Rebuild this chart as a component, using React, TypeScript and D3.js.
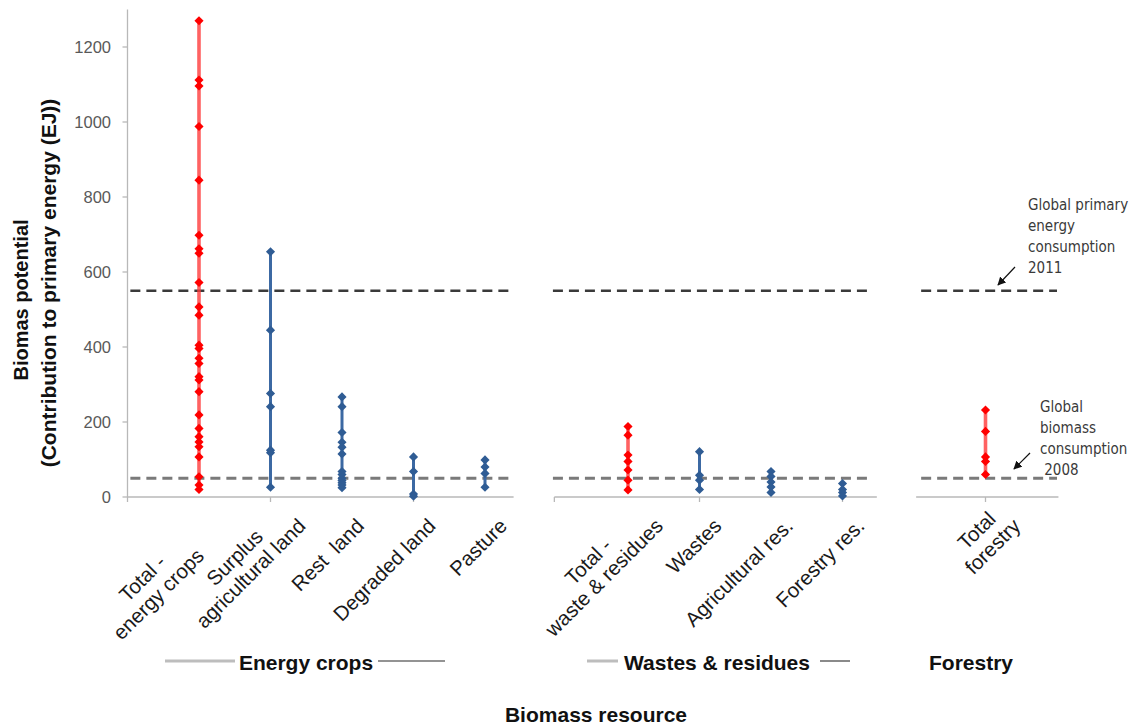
import React, { useEffect, useRef } from 'react';
import * as d3 from 'd3';

// ---------- DATA ----------
const categories = [
  'Total - energy crops',
  'Surplus agricultural land',
  'Rest land',
  'Degraded land',
  'Pasture',
  'Total - waste & residues',
  'Wastes',
  'Agricultural res.',
  'Forestry res.',
  'Total forestry',
];
const categoryLabelLines = [
  ['Total -', 'energy crops'],
  ['Surplus', 'agricultural land'],
  ['Rest  land'],
  ['Degraded land'],
  ['Pasture'],
  ['Total -', 'waste & residues'],
  ['Wastes'],
  ['Agricultural res.'],
  ['Forestry res.'],
  ['Total', 'forestry'],
];
// slot index on the category axis (empty slots separate the groups)
const categorySlots = [0, 1, 2, 3, 4, 6, 7, 8, 9, 11];
const isTotal = [true, false, false, false, false, true, false, false, false, true];

const totalEnergyCrops = [1270, 1112, 1096, 988, 845, 698, 662, 650, 572, 507, 485, 405, 396, 370, 356, 321, 312, 281, 219, 183, 161, 147, 134, 107, 54, 32, 20];
const surplusAgriculturalLand = [654, 445, 276, 241, 125, 118, 26];
const restLand = [267, 241, 172, 146, 133, 115, 68, 60, 50, 44, 38, 32, 25];
const degradedLand = [107, 68, 8, 2];
const pasture = [99, 80, 63, 26];
const totalWasteResidues = [188, 165, 112, 95, 72, 45, 19];
const wastes = [121, 58, 45, 20];
const agriculturalRes = [68, 55, 40, 27, 12];
const forestryRes = [36, 20, 12, 3];
const totalForestry = [232, 175, 107, 95, 60];

const seriesValues = [
  totalEnergyCrops,
  surplusAgriculturalLand,
  restLand,
  degradedLand,
  pasture,
  totalWasteResidues,
  wastes,
  agriculturalRes,
  forestryRes,
  totalForestry,
];

const yTicks = [0, 200, 400, 600, 800, 1000, 1200];
const primaryEnergy2011 = 550;
const biomass2008 = 50;

const groupNames = ['Energy crops', 'Wastes & residues', 'Forestry'];

// ---------- LAYOUT ----------
const W = 1135;
const H = 728;
const FONT = "'Liberation Sans', Arial, sans-serif";
const NARROW = "'Liberation Sans Narrow', 'DejaVu Sans Condensed', 'Liberation Sans', sans-serif";
const RED = '#ff0000';
const RED_LINE = '#ff3b3b';
const BLUE = '#2f5c94';
const BLUE_LINE = '#3c69a3';

export default function App() {
  const ref = useRef<SVGSVGElement>(null);

  useEffect(() => {
    const svg = d3.select(ref.current);
    svg.selectAll('*').remove();

    const y = d3.scaleLinear().domain([0, 1300]).range([497, 9.5]);
    const x = d3.scaleLinear().domain([-1, 12]).range([127.5, 1057]);

    const defs = svg.append('defs');
    defs
      .append('marker')
      .attr('id', 'arrowHead')
      .attr('viewBox', '0 0 10 10')
      .attr('refX', 9)
      .attr('refY', 5)
      .attr('markerWidth', 7)
      .attr('markerHeight', 7)
      .attr('orient', 'auto')
      .append('path')
      .attr('d', 'M0,0 L10,5 L0,10 Z')
      .attr('fill', '#111');

    // group axis segments (slot units)
    const axisSegs = [
      [-1, 4.4],
      [4.97, 9.48],
      [10.03, 12.02],
    ];
    const dashSegs = [
      [-0.96, 4.4],
      [4.95, 9.38],
      [10.1, 12.0],
    ];

    // y axis
    svg
      .append('line')
      .attr('x1', x(-1))
      .attr('x2', x(-1))
      .attr('y1', y(1300))
      .attr('y2', y(0))
      .attr('stroke', '#b8b8b8')
      .attr('stroke-width', 1.3);
    const yt = svg.append('g');
    yTicks.forEach((t) => {
      yt.append('line')
        .attr('x1', x(-1) - 5)
        .attr('x2', x(-1))
        .attr('y1', y(t))
        .attr('y2', y(t))
        .attr('stroke', '#b8b8b8')
        .attr('stroke-width', 1.3);
      yt.append('text')
        .attr('x', 111)
        .attr('y', y(t))
        .attr('text-anchor', 'end')
        .attr('dominant-baseline', 'central')
        .attr('font-family', FONT)
        .attr('font-size', 16.5)
        .attr('fill', '#595959')
        .text(d3.format('d')(t));
    });

    // x axis segments
    axisSegs.forEach(([a, b]) => {
      svg
        .append('line')
        .attr('x1', x(a))
        .attr('x2', x(b))
        .attr('y1', y(0))
        .attr('y2', y(0))
        .attr('stroke', '#b8b8b8')
        .attr('stroke-width', 1.3);
    });
    const xTickSlots = [-1, 1, 3, 4.97, 7, 9, 11];
    xTickSlots.forEach((s) => {
      svg
        .append('line')
        .attr('x1', x(s))
        .attr('x2', x(s))
        .attr('y1', y(0))
        .attr('y2', y(0) + 5)
        .attr('stroke', '#b8b8b8')
        .attr('stroke-width', 1.3);
    });

    // reference dashed lines
    dashSegs.forEach(([a, b]) => {
      svg
        .append('line')
        .attr('x1', x(a))
        .attr('x2', x(b))
        .attr('y1', y(primaryEnergy2011))
        .attr('y2', y(primaryEnergy2011))
        .attr('stroke', '#3a3a3a')
        .attr('stroke-width', 2.4)
        .attr('stroke-dasharray', '10 6');
      svg
        .append('line')
        .attr('x1', x(a))
        .attr('x2', x(b))
        .attr('y1', y(biomass2008))
        .attr('y2', y(biomass2008))
        .attr('stroke', '#7a7a7a')
        .attr('stroke-width', 3.2)
        .attr('stroke-dasharray', '10 6');
    });

    // series
    const sq = d3.symbol().type(d3.symbolSquare).size(42);
    categories.forEach((c, i) => {
      const vals = seriesValues[i];
      const cx = x(categorySlots[i]);
      const [mn, mx] = d3.extent(vals) as [number, number];
      const g = svg.append('g').attr('class', 'series');
      g.append('line')
        .attr('x1', cx)
        .attr('x2', cx)
        .attr('y1', y(mn))
        .attr('y2', y(mx))
        .attr('stroke', isTotal[i] ? RED_LINE : BLUE_LINE)
        .attr('stroke-opacity', isTotal[i] ? 0.8 : 1)
        .attr('stroke-width', isTotal[i] ? 3.6 : 3);
      g.selectAll('path')
        .data(vals)
        .enter()
        .append('path')
        .attr('d', sq as any)
        .attr('transform', (v) => `translate(${cx},${y(v)}) rotate(45)`)
        .attr('fill', isTotal[i] ? RED : BLUE);
    });

    // category labels (rotated -45)
    const lh = 22.5;
    const fs = 20.5;
    categoryLabelLines.forEach((lines, i) => {
      const cx = x(categorySlots[i]);
      const two = lines.length > 1;
      let px = cx + (two ? 23 : 18);
      let py = two ? 514 : 522;
      if (i === 0) {
        px -= 30;
        py += 30;
      }
      const g = svg
        .append('g')
        .attr('transform', `translate(${px},${py}) rotate(-45)`);
      const texts = lines.map((ln, k) =>
        g
          .append('text')
          .attr('text-anchor', 'end')
          .attr('dominant-baseline', 'central')
          .attr('font-family', FONT)
          .attr('font-size', fs)
          .attr('fill', '#1a1a1a')
          .style('white-space', 'pre')
          .attr('y', (k - (lines.length - 1) / 2) * lh)
          .text(ln)
      );
      const widths = texts.map((t) => (t.node() as SVGTextElement).getComputedTextLength());
      const maxW = Math.max(...widths);
      texts.forEach((t, k) => t.attr('x', -(maxW - widths[k]) / 2));
    });

    // group labels with side lines
    const groupCenters = [306, 717, 971];
    const groupLines = [
      [
        [165, 235, '#bdbdbd', 3],
        [378, 445, '#6f6f6f', 1.4],
      ],
      [
        [587, 618, '#bdbdbd', 3],
        [820, 850, '#8a8a8a', 2],
      ],
      [],
    ];
    groupNames.forEach((n, i) => {
      svg
        .append('text')
        .attr('x', groupCenters[i])
        .attr('y', 662)
        .attr('text-anchor', 'middle')
        .attr('dominant-baseline', 'central')
        .attr('font-family', FONT)
        .attr('font-weight', 'bold')
        .attr('font-size', 21)
        .attr('fill', '#111')
        .text(n);
      (groupLines[i] as any[]).forEach(([a, b, col, w]) => {
        svg
          .append('line')
          .attr('x1', a)
          .attr('x2', b)
          .attr('y1', 661)
          .attr('y2', 661)
          .attr('stroke', col)
          .attr('stroke-width', w);
      });
    });

    // axis titles
    svg
      .append('text')
      .attr('x', 596)
      .attr('y', 722)
      .attr('text-anchor', 'middle')
      .attr('font-family', FONT)
      .attr('font-weight', 'bold')
      .attr('font-size', 21)
      .attr('fill', '#111')
      .text('Biomass resource');

    svg
      .append('text')
      .attr('transform', 'translate(21,300) rotate(-90)')
      .attr('text-anchor', 'middle')
      .attr('dominant-baseline', 'central')
      .attr('font-family', FONT)
      .attr('font-weight', 'bold')
      .attr('font-size', 20)
      .attr('fill', '#111')
      .text('Biomas potential');
    svg
      .append('text')
      .attr('transform', 'translate(48,283) rotate(-90)')
      .attr('text-anchor', 'middle')
      .attr('dominant-baseline', 'central')
      .attr('font-family', FONT)
      .attr('font-weight', 'bold')
      .attr('font-size', 21)
      .attr('fill', '#111')
      .text('(Contribution to primary energy (EJ))');

    // annotations
    const ann1 = ['Global primary', 'energy', 'consumption', '2011'];
    ann1.forEach((t, k) => {
      svg
        .append('text')
        .attr('x', 1028)
        .attr('y', 205 + k * 21)
        .attr('dominant-baseline', 'central')
        .attr('font-family', NARROW)
        .attr('font-size', 15)
        .attr('fill', '#3a3a3a')
        .text(t);
    });
    const ann2 = ['Global', 'biomass', 'consumption', ' 2008'];
    ann2.forEach((t, k) => {
      svg
        .append('text')
        .attr('x', 1040)
        .attr('y', 407 + k * 21)
        .attr('dominant-baseline', 'central')
        .attr('font-family', NARROW)
        .attr('font-size', 15)
        .attr('fill', '#3a3a3a')
        .style('white-space', 'pre')
        .text(t);
    });
    svg
      .append('line')
      .attr('x1', 1015)
      .attr('y1', 267)
      .attr('x2', 998)
      .attr('y2', 285)
      .attr('stroke', '#111')
      .attr('stroke-width', 1.2)
      .attr('marker-end', 'url(#arrowHead)');
    svg
      .append('line')
      .attr('x1', 1030)
      .attr('y1', 453)
      .attr('x2', 1014)
      .attr('y2', 469)
      .attr('stroke', '#111')
      .attr('stroke-width', 1.2)
      .attr('marker-end', 'url(#arrowHead)');
  }, []);

  return (
    <svg
      ref={ref}
      width={W}
      height={H}
      style={{ position: 'absolute', left: 0, top: 0, display: 'block', background: '#fff' }}
    />
  );
}
